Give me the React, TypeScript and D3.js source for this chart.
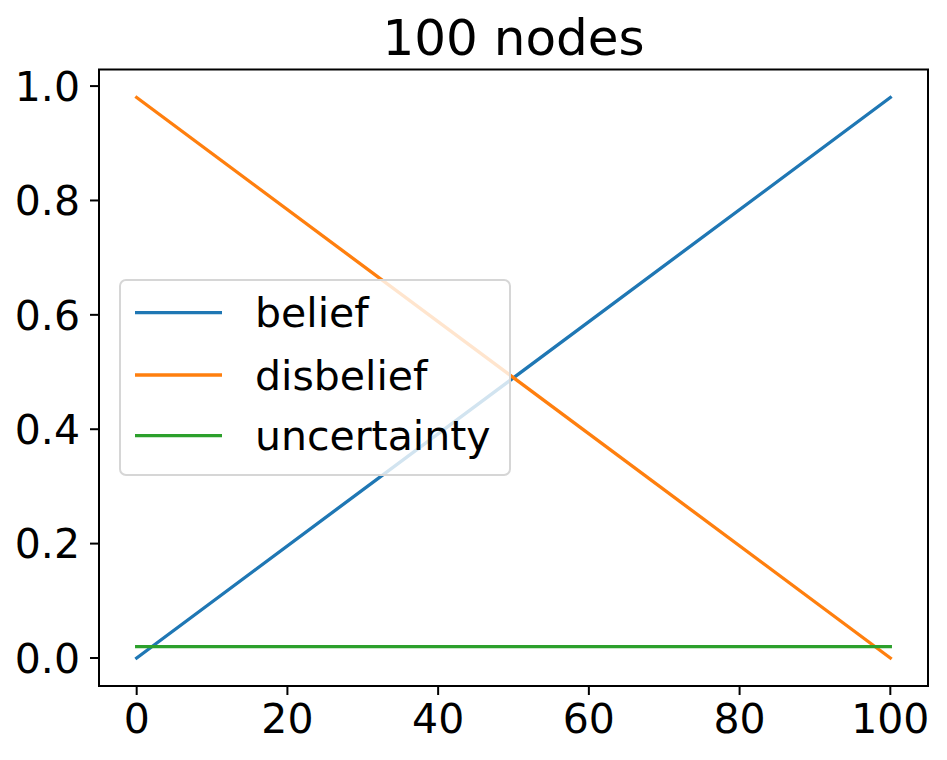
import React from "react";
import * as d3 from "d3";

const xValues = [0, 100];
const belief = [0, 0.98];
const disbelief = [0.98, 0];
const uncertainty = [0.02, 0.02];
const seriesNames = ["belief", "disbelief", "uncertainty"];
const seriesColors = ["#1f77b4", "#ff7f0e", "#2ca02c"];
const xTicks = [0, 20, 40, 60, 80, 100];
const yTicks = [0, 0.2, 0.4, 0.6, 0.8, 1.0];
const title = "100 nodes";

const W = 947, H = 760;
const L = 99, R = 928, T = 69.5, B = 686;
const font = "DejaVu Sans, sans-serif";

export default function App() {
  const x = d3.scaleLinear().domain([-5, 105]).range([L, R]);
  const y = d3.scaleLinear().domain([-0.049, 1.029]).range([B, T]);
  const data = [belief, disbelief, uncertainty];
  const line = d3
    .line<[number, number]>()
    .x((d) => x(d[0]))
    .y((d) => y(d[1]));
  const legX = 120, legY = 280, legW = 390, legH = 195;
  const rowY = [312.7, 375, 435.7];
  return (
    <svg width={W} height={H} style={{ position: "absolute", left: 0, top: 0 }}>
      <rect x={0} y={0} width={W} height={H} fill="white" />
      {data.map((s, i) => (
        <path
          key={i}
          d={line(xValues.map((xv, j) => [xv, s[j]] as [number, number])) || ""}
          stroke={seriesColors[i]}
          strokeWidth={3.3}
          fill="none"
          strokeLinecap="square"
        />
      ))}
      <rect x={L} y={T} width={R - L} height={B - T} fill="none" stroke="black" strokeWidth={2} />
      {xTicks.map((t) => (
        <g key={t}>
          <line x1={x(t)} x2={x(t)} y1={B} y2={B + 9} stroke="black" strokeWidth={2} />
          <text x={x(t)} y={733} textAnchor="middle" fontFamily={font} fontSize={41}>
            {t}
          </text>
        </g>
      ))}
      {yTicks.map((t) => (
        <g key={t}>
          <line x1={L - 9} x2={L} y1={y(t)} y2={y(t)} stroke="black" strokeWidth={2} />
          <text x={80} y={y(t)} dy="0.36em" textAnchor="end" fontFamily={font} fontSize={41}>
            {t.toFixed(1)}
          </text>
        </g>
      ))}
      <text x={(L + R) / 2} y={55} textAnchor="middle" fontFamily={font} fontSize={50}>
        {title}
      </text>
      <rect
        x={legX}
        y={legY}
        width={legW}
        height={legH}
        rx={6}
        fill="white"
        fillOpacity={0.8}
        stroke="#d6d6d6"
        strokeWidth={2}
      />
      {seriesNames.map((n, i) => (
        <g key={n}>
          <line x1={135} x2={222} y1={rowY[i]} y2={rowY[i]} stroke={seriesColors[i]} strokeWidth={3.3} />
          <text x={255} y={rowY[i]} dy="0.36em" fontFamily={font} fontSize={41}>
            {n}
          </text>
        </g>
      ))}
    </svg>
  );
}
